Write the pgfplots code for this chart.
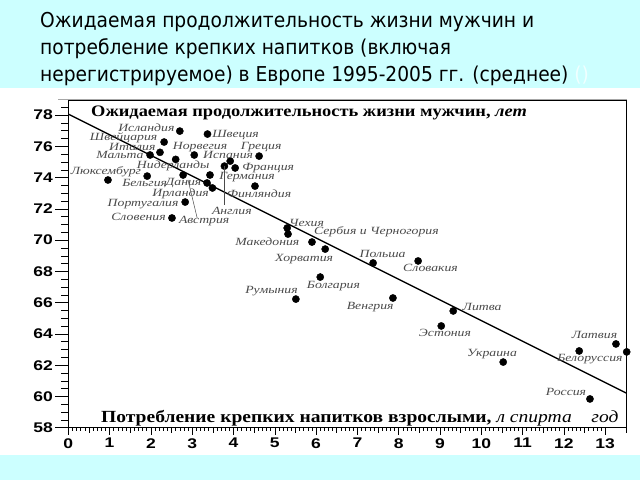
\documentclass[border=0pt]{standalone}
\usepackage{pgfplots}
\pgfplotsset{compat=1.18}
\usepackage{fontspec}
\setmainfont{Liberation Serif}
\newfontfamily\titlefont{DejaVu Sans}[FakeStretch=0.91]
\newfontfamily\labfont{Liberation Serif}[FakeStretch=1.25]
\newfontfamily\axtfont{Liberation Serif}[FakeStretch=1.15]
\newfontfamily\tickfont{Liberation Sans}[FakeStretch=1.25]
\definecolor{bgcyan}{HTML}{CCFFFF}
\definecolor{labgray}{HTML}{4A4A4A}
\tikzset{lab/.style={font=\labfont\itshape\fontsize{11}{11}\selectfont, text=labgray, inner sep=0}}
\begin{document}
\begin{tikzpicture}
\path[use as bounding box] (0pt,0pt) rectangle (640pt,480pt);
\fill[white] (0pt,0pt) rectangle (640pt,480pt);
\fill[bgcyan] (0pt,392pt) rectangle (640pt,480pt);
\fill[bgcyan] (0pt,0pt) rectangle (640pt,25pt);
\node[anchor=base west, font=\titlefont\fontsize{20.5}{24}\selectfont, inner sep=0] at (40pt,452pt) {Ожидаемая продолжительность жизни мужчин и};
\node[anchor=base west, font=\titlefont\fontsize{20.5}{24}\selectfont, inner sep=0] at (40pt,425pt) {потребление крепких напитков (включая};
\node[anchor=base west, font=\titlefont\fontsize{20.5}{24}\selectfont, inner sep=0] at (40pt,398pt) {нерегистрируемое) в Европе 1995-2005 гг. (среднее) \textcolor{white!70!bgcyan}{()}};
\draw[gray!70, line width=1pt] (58pt,380pt) -- (627pt,380pt);
\begin{axis}[
  at={(68.3pt,52.3pt)}, anchor=south west,
  width=558.4pt, height=327.7pt, scale only axis,
  xmin=0, xmax=13.52, ymin=58, ymax=78.97,
  clip mode=individual,
  axis line style={black, line width=0.8pt},
  xtick={0,1,...,13}, ytick={58,60,...,78},
  minor x tick num=9,
  tick align=outside, xtick pos=bottom, ytick pos=left,
  major tick length=7pt, minor tick length=3pt,
  tick style={black, line width=0.6pt},
  tick label style={font=\tickfont\bfseries\fontsize{14}{14}\selectfont},
  y tick label style={xshift=-5pt},
  /pgf/number format/assume math mode=true,
]
% tick extras
\pgfplotsinvokeforeach{58,60,...,78}{\draw[black,line width=0.6pt] (axis cs:0,#1) -- ++(-13pt,0pt);}
\pgfplotsinvokeforeach{58.5,59,59.5,60.5,61,61.5,62.5,63,63.5,64.5,65,65.5,66.5,67,67.5,68.5,69,69.5,70.5,71,71.5,72.5,73,73.5,74.5,75,75.5,76.5,77,77.5,78.5}{\draw[black,line width=0.6pt] (axis cs:0,#1) -- ++(-7pt,0pt);}
\pgfplotsinvokeforeach{0.5,1.5,...,13.5}{\draw[black,line width=0.6pt] (axis cs:#1,58) -- ++(0pt,-5pt);}
% regression line
\addplot[black, line width=1.3pt] coordinates {(0,78.07) (13.52,60.20)};
% countries
\addplot[only marks, mark=*, mark size=3.6pt, black] coordinates {
(2.70,76.98) (3.37,76.79) (2.32,76.28) (2.22,75.62) (1.98,75.45)
(3.05,75.45) (3.92,75.06) (4.04,74.62) (3.78,74.74) (4.62,75.38)
(2.60,75.17) (3.43,74.17) (2.78,74.17) (3.36,73.66) (3.49,73.34)
(4.52,73.46) (2.83,72.44) (2.51,71.42) (1.91,74.10) (0.96,73.85)
(5.30,70.78) (5.32,70.39) (5.90,69.88) (6.22,69.43) (7.38,68.54)
(8.47,68.67) (6.10,67.64) (5.51,66.23) (7.86,66.30) (9.32,65.47)
(9.03,64.51) (10.53,62.20) (12.37,62.91) (13.26,63.36) (13.52,62.85)
(12.63,59.84)
};
% connector lines
\draw[labgray, line width=0.5pt] (axis cs:3.78,74.74) -- (axis cs:3.78,72.25);
\draw[labgray, line width=0.5pt] (axis cs:2.90,73.85) -- (axis cs:3.12,71.42);
% labels
\node[lab] at (axis cs:1.89,77.17) {Исландия};
\node[lab] at (axis cs:4.05,76.73) {Швеция};
\node[lab] at (axis cs:1.34,76.54) {Швейцария};
\node[lab] at (axis cs:1.55,75.96) {Италия};
\node[lab] at (axis cs:1.25,75.43) {Мальта};
\node[lab] at (axis cs:3.19,75.96) {Норвегия};
\node[lab] at (axis cs:3.87,75.45) {Испания};
\node[lab] at (axis cs:4.67,75.96) {Греция};
\node[lab] at (axis cs:4.84,74.62) {Франция};
\node[lab] at (axis cs:4.33,74.04) {Германия};
\node[lab] at (axis cs:4.62,72.95) {Финляндия};
\node[lab] at (axis cs:3.96,71.87) {Англия};
\node[lab] at (axis cs:2.54,74.74) {Нидерланды};
\node[lab] at (axis cs:0.91,74.35) {Люксембург};
\node[lab] at (axis cs:1.85,73.66) {Бельгия};
\node[lab] at (axis cs:2.79,73.66) {Дания};
\node[lab] at (axis cs:2.72,72.95) {Ирландия};
\node[lab] at (axis cs:1.81,72.31) {Португалия};
\node[lab] at (axis cs:1.70,71.48) {Словения};
\node[lab] at (axis cs:3.29,71.22) {Австрия};
\node[lab] at (axis cs:5.77,71.10) {Чехия};
\node[lab] at (axis cs:7.46,70.52) {Сербия и Черногория};
\node[lab] at (axis cs:4.82,69.88) {Македония};
\node[lab] at (axis cs:5.71,68.79) {Хорватия};
\node[lab] at (axis cs:7.61,69.11) {Польша};
\node[lab] at (axis cs:8.77,68.22) {Словакия};
\node[lab] at (axis cs:6.42,67.07) {Болгария};
\node[lab] at (axis cs:4.92,66.76) {Румыния};
\node[lab] at (axis cs:7.31,65.72) {Венгрия};
\node[lab] at (axis cs:10.02,65.72) {Литва};
\node[lab] at (axis cs:9.12,64.06) {Эстония};
\node[lab] at (axis cs:10.26,62.72) {Украина};
\node[lab] at (axis cs:12.74,63.93) {Латвия};
\node[lab] at (axis cs:12.63,62.40) {Белоруссия};
\node[lab] at (axis cs:12.05,60.28) {Россия};
% inner titles
\node[anchor=base, font=\axtfont\bfseries\fontsize{16}{16}\selectfont, inner sep=0] at (rel axis cs:0.431,0.951) {Ожидаемая продолжительность жизни мужчин, \textit{лет}};
\node[anchor=base, font=\axtfont\bfseries\fontsize{17}{17}\selectfont, inner sep=0] at (rel axis cs:0.522,0.015) {Потребление крепких напитков взрослыми, \textit{\mdseries л спирта \ \ \ год}};
\end{axis}
\end{tikzpicture}
\end{document}
